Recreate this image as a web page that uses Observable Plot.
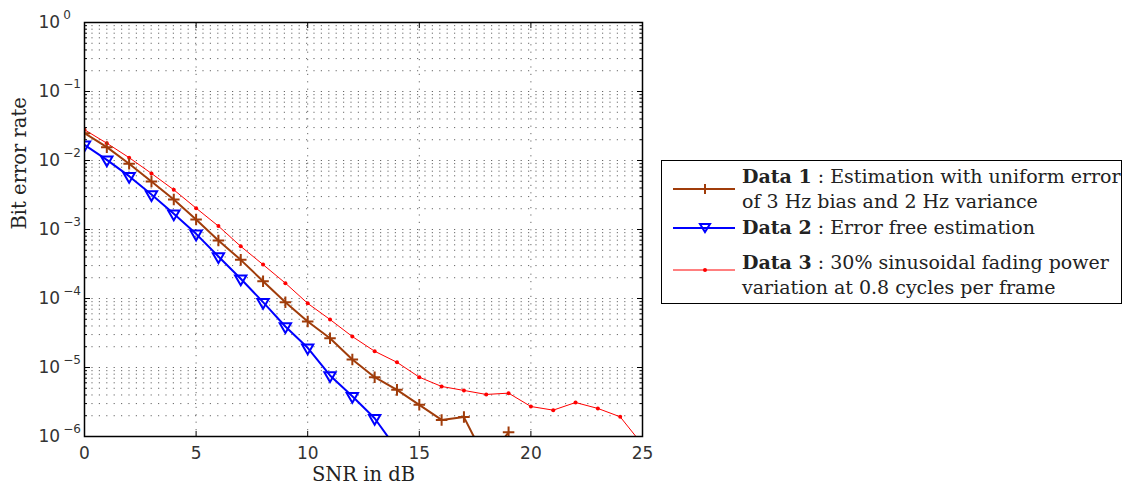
<!DOCTYPE html>
<html><head><meta charset="utf-8">
<script src="https://cdn.jsdelivr.net/npm/d3@7"></script>
<script src="https://cdn.jsdelivr.net/npm/@observablehq/plot@0.6"></script>
<style>
body{margin:0;background:#fff;}
#wrap{position:relative;width:1129px;height:487px;overflow:hidden;}
#legend{position:absolute;left:661px;top:160px;width:459px;height:142px;border:1.5px solid #000;background:#fff;font-family:"DejaVu Serif",serif;font-size:19px;color:#222;}
#legend .ln{position:absolute;left:80px;white-space:nowrap;line-height:22px;}
#legend svg{position:absolute;left:0;}
</style></head><body><div id="wrap"></div>
<script>
// ---- data ----
const snrDb = [0,1,2,3,4,5,6,7,8,9,10,11,12,13,14,15,16,17,18,19,20,21,22,23,24,25];
const berData1 = [0.0249,0.0156,0.00896,0.00496,0.00272,0.0014,6.93e-4,3.63e-4,1.78e-4,8.85e-5,4.64e-5,2.66e-5,1.31e-5,7.24e-6,4.74e-6,2.88e-6,1.74e-6,1.91e-6,4.4e-7,1.15e-6];
const berData2 = [0.01687,0.01023,0.00593,0.00322,0.00169,8.65e-4,4.06e-4,1.93e-4,8.85e-5,3.93e-5,1.93e-5,7.66e-6,3.84e-6,1.84e-6,6.5e-7];
const berData3 = [0.0279,0.0178,0.0110,0.0065,0.00376,0.00204,0.00112,5.7e-4,3.1e-4,1.67e-4,8.5e-5,4.96e-5,2.81e-5,1.72e-5,1.19e-5,7.24e-6,5.31e-6,4.65e-6,4.07e-6,4.25e-6,2.72e-6,2.41e-6,3.11e-6,2.55e-6,1.93e-6,7.6e-7];
const xTicks = [0,5,10,15,20,25];
const xGrid = [5,10,15,20];
const yDecades = [1,1e-1,1e-2,1e-3,1e-4,1e-5,1e-6];
const yMinor = [];
for (let e = -6; e < 0; e++) for (let k = 2; k <= 9; k++) yMinor.push(k * Math.pow(10, e));
const xLabel = "SNR in dB";
const yLabel = "Bit error rate";
const seriesColors = ["#a03c0a", "#0000ff", "#ff0000"];
const legendBold = ["Data 1", "Data 2", "Data 3"];
const legendText = [
  [" : Estimation with uniform error", "of 3 Hz bias and 2 Hz variance"],
  [" : Error free estimation"],
  [" : 30% sinusoidal fading power", "variation at 0.8 cycles per frame"]
];

const toRows = (arr) => arr.map((v, i) => ({snr: snrDb[i], ber: v}));
const d1 = toRows(berData1), d2 = toRows(berData2), d3r = toRows(berData3);

const gridStyle = {stroke: "#000", strokeOpacity: 0.6, strokeWidth: 1, strokeDasharray: "1.2,6.2"};
const expFmt = d => { const e = Math.round(Math.log10(d)); return e === 0 ? "0" : "\u2212" + (-e); };

const chart = Plot.plot({
  width: 1129, height: 487,
  marginLeft: 84, marginRight: 487, marginTop: 22, marginBottom: 51,
  style: {fontFamily: "DejaVu Sans", fontSize: "17px", color: "#000", background: "#fff"},
  x: {domain: [0, 25]},
  y: {type: "log", domain: [1e-6, 1]},
  marks: [
    Plot.gridY(yMinor.concat(yDecades), gridStyle),
    Plot.gridX(xGrid, gridStyle),
    Plot.line(d3r, {x: "snr", y: "ber", stroke: seriesColors[2], strokeWidth: 1, clip: true}),
    Plot.dot(d3r, {x: "snr", y: "ber", fill: seriesColors[2], r: 2, clip: true}),
    Plot.line(d1, {x: "snr", y: "ber", stroke: seriesColors[0], strokeWidth: 2, clip: true}),
    Plot.dot(d1, {x: "snr", y: "ber", symbol: "plus", r: 3.8, stroke: seriesColors[0], strokeWidth: 2, clip: true}),
    Plot.line(d2, {x: "snr", y: "ber", stroke: seriesColors[1], strokeWidth: 2, clip: true}),
    Plot.dot(d2, {x: "snr", y: "ber", symbol: "triangle", rotate: 180, r: 4.2, fill: "none", stroke: seriesColors[1], strokeWidth: 2, clip: true}),
    Plot.axisX(xTicks, {anchor: "bottom", tickSize: -5, fill: "none", stroke: "#000", label: null}),
    Plot.axisX(xTicks, {anchor: "top", tickSize: -5, fill: "none", stroke: "#000", label: null}),
    Plot.axisY(yDecades, {anchor: "left", tickSize: -6, fill: "none", stroke: "#000", label: null}),
    Plot.axisY(yDecades, {anchor: "right", tickSize: -6, fill: "none", stroke: "#000", label: null}),
    Plot.axisY(yMinor, {anchor: "left", tickSize: -3, fill: "none", stroke: "#000", label: null}),
    Plot.axisY(yMinor, {anchor: "right", tickSize: -3, fill: "none", stroke: "#000", label: null}),
    Plot.axisX(xTicks, {anchor: "bottom", tickSize: 0, tickPadding: 10, fill: "#333", label: null}),
    Plot.axisY(yDecades, {anchor: "left", tickSize: 0, tickPadding: 46, textAnchor: "start", tickFormat: expFmt, fill: "#333", label: null}),
    Plot.frame({stroke: "#000", strokeWidth: 1.5}),
    Plot.text([xLabel], {frameAnchor: "bottom", dy: 44, fontFamily: "DejaVu Serif", fontSize: 19.5, fill: "#222"}),
    Plot.text([yLabel], {frameAnchor: "left", dx: -65, rotate: -90, fontFamily: "DejaVu Serif", fontSize: 19.5, fill: "#222"})
  ]
});

// superscript exponents on y tick labels
const ns = "http://www.w3.org/2000/svg";
chart.querySelectorAll('g[aria-label="y-axis tick label"] text').forEach(t => {
  const exp = t.textContent;
  t.textContent = "";
  const base = document.createElementNS(ns, "tspan");
  base.textContent = "10";
  const sup = document.createElementNS(ns, "tspan");
  sup.textContent = exp;
  sup.setAttribute("dx", "3");
  sup.setAttribute("dy", "-9");
  sup.setAttribute("font-size", "12");
  t.append(base, sup);
});

const wrap = document.getElementById("wrap");
wrap.appendChild(chart);

// legend
const legend = document.createElement("div");
legend.id = "legend";
const rowTop = [4, 55, 90];     // first text line top (px within box)
const swatchY = [28, 67, 109];
const markers = [
  c => `<path d="M31,-5V5M26,0H36" stroke="${c}" stroke-width="2" fill="none"/>`,
  c => `<path d="M26,-4H36L31,4Z" stroke="${c}" stroke-width="2" fill="none"/>`,
  c => `<circle cx="31" cy="0" r="2" fill="${c}"/>`
];
const widths = [2, 2, 1];
legendBold.forEach((b, i) => {
  const sw = document.createElement("div");
  sw.innerHTML = `<svg width="80" height="20" style="top:${swatchY[i] - 10}px"><g transform="translate(0,10)"><line x1="11" x2="73" y1="0" y2="0" stroke="${seriesColors[i]}" stroke-width="${widths[i]}"/><g transform="translate(12,0)">${markers[i](seriesColors[i])}</g></g></svg>`;
  legend.appendChild(sw.firstChild);
  legendText[i].forEach((txt, j) => {
    const ln = document.createElement("div");
    ln.className = "ln";
    ln.style.top = (rowTop[i] + j * 25) + "px";
    if (j === 0) {
      const s = document.createElement("b");
      s.textContent = b;
      ln.appendChild(s);
      ln.appendChild(document.createTextNode(txt));
    } else ln.textContent = txt;
    legend.appendChild(ln);
  });
});
wrap.appendChild(legend);
</script>
</body></html>
